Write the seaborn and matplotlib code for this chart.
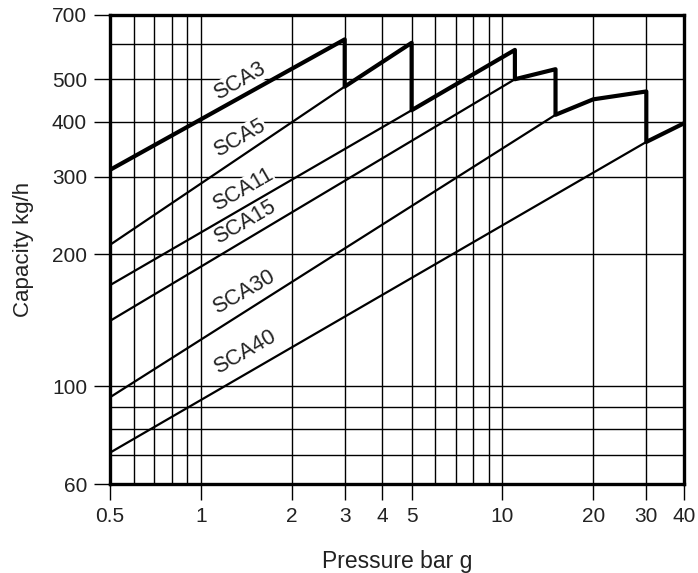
import pandas as pd
import seaborn as sns
import matplotlib.pyplot as plt
from matplotlib.ticker import FixedLocator, NullFormatter

# values (pressure bar g -> capacity kg/h)
models = ["SCA3", "SCA5", "SCA11", "SCA15", "SCA30", "SCA40"]
pressures = [
    [0.5, 3],
    [0.5, 3, 5],
    [0.5, 5, 11],
    [0.5, 11, 15],
    [0.5, 15, 20, 30],
    [0.5, 30, 40],
]
capacities = [
    [311, 616],
    [210, 481, 605],
    [170, 425, 583],
    [141, 500, 527],
    [94.5, 415, 450, 469],
    [70.7, 360, 397],
]

# upper envelope (max capacity) drawn heavy, with the drops between models
envelope_p = [0.5, 3, 3, 5, 5, 11, 11, 15, 15, 20, 30, 30, 40]
envelope_c = [311, 616, 481, 605, 425, 583, 500, 527, 415, 450, 469, 360, 397]

# where the model names sit
label_p = [1.35, 1.35, 1.38, 1.40, 1.39, 1.40]
label_c = [496, 367, 280, 237, 164, 120]

x_major = [0.5, 1, 2, 3, 4, 5, 10, 20, 30, 40]
x_minor = [0.6, 0.7, 0.8, 0.9, 6, 7, 8, 9]
y_major = [60, 100, 200, 300, 400, 500, 700]
y_minor = [70, 80, 90, 600]

rows = []
for m, ps, cs in zip(models, pressures, capacities):
    for p, c in zip(ps, cs):
        rows.append({"model": m, "pressure": p, "capacity": c})
df = pd.DataFrame(rows)
env = pd.DataFrame({"pressure": envelope_p, "capacity": envelope_c})

sns.set_theme(style="white")
plt.rcParams['font.family'] = ['Liberation Sans', 'DejaVu Sans']

fig = plt.figure(figsize=(6.98, 5.73), dpi=100)
ax = fig.add_axes([110/698, 1 - 484/573, 574/698, 469/573])

ax.set_xscale("log")
ax.set_yscale("log")

sns.lineplot(data=df, x="pressure", y="capacity", hue="model",
             palette=["black"] * len(models), estimator=None, sort=False,
             linewidth=1.6, legend=False, ax=ax, zorder=3)
sns.lineplot(data=env, x="pressure", y="capacity", color="black",
             estimator=None, sort=False, linewidth=3.0, ax=ax, zorder=4)

ax.set_xlim(0.5, 40)
ax.set_ylim(60, 700)

ax.xaxis.set_major_locator(FixedLocator(x_major))
ax.xaxis.set_minor_locator(FixedLocator(x_minor))
ax.yaxis.set_major_locator(FixedLocator(y_major))
ax.yaxis.set_minor_locator(FixedLocator(y_minor))
ax.set_xticklabels([f"{v:g}" for v in x_major])
ax.set_yticklabels([f"{v:g}" for v in y_major])
ax.xaxis.set_minor_formatter(NullFormatter())
ax.yaxis.set_minor_formatter(NullFormatter())

ax.tick_params(which="major", direction="out", length=11.5, width=1.0,
               color="black", labelsize=15, labelcolor="#222222", pad=5,
               bottom=True, left=True)
ax.tick_params(which="minor", length=0)

ax.set_axisbelow(True)
ax.grid(True, which="both", color="black", linewidth=1.0)

for s in ax.spines.values():
    s.set_linewidth(2.4)
    s.set_color("black")

for m, p, c in zip(models, label_p, label_c):
    ax.text(p, c, m, rotation=30, rotation_mode="anchor", ha="center",
            va="center", fontsize=15.5, color="#222222", zorder=2.5,
            bbox=dict(facecolor="white", edgecolor="none", pad=0.5))

ax.set_xlabel("Pressure bar g", fontsize=16.5, color="#222222", labelpad=17)
ax.set_ylabel("Capacity kg/h", fontsize=16, color="#222222", labelpad=13)

fig.savefig("out.png", dpi=100)
